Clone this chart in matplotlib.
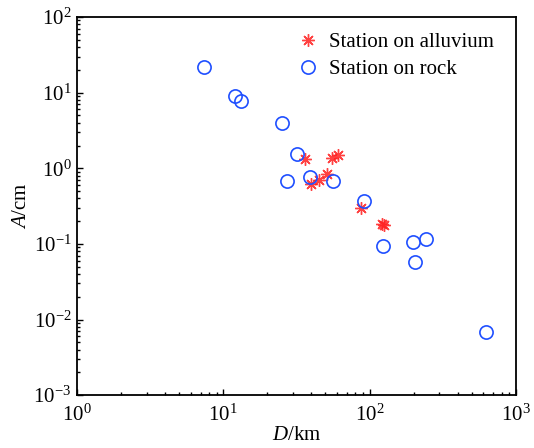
import matplotlib
matplotlib.use("Agg")
import matplotlib.pyplot as plt
from matplotlib.ticker import LogLocator, NullFormatter
import numpy as np

# 冲积层台站 (D/km, A/cm)
alluvium_D = [36.2, 39.6, 44.9, 51.4, 55.1, 60.5, 87.4, 121, 126]
alluvium_A = [1.31, 0.62, 0.71, 0.83, 1.35, 1.50, 0.295, 0.185, 0.176]

# 基岩台站
rock_D = [7.4, 12.0, 13.2, 25.2, 31.7, 27.5, 39.1, 56.5, 92, 124, 197, 243, 205, 625]
rock_A = [21.9, 9.1, 7.7, 4.0, 1.54, 0.68, 0.77, 0.68, 0.37, 0.094, 0.106, 0.115, 0.057, 0.0068]

plt.rcParams['font.family'] = ['Liberation Serif', 'DejaVu Serif']
plt.rcParams['mathtext.fontset'] = 'custom'
plt.rcParams['mathtext.rm'] = 'Liberation Serif'
plt.rcParams['mathtext.it'] = 'Liberation Serif:italic'

fig = plt.figure(figsize=(5.34, 4.48), dpi=100)
ax = fig.add_axes([0.144, 0.118, 0.822, 0.844])

ax.plot(alluvium_D, alluvium_A, linestyle='none', marker=(8, 2, 0), markersize=9,
        markeredgewidth=1.0, color='#ff2020', alpha=0.85, label='Station on alluvium')
ax.plot(rock_D, rock_A, linestyle='none', marker='o', markersize=9.5,
        markerfacecolor='none', markeredgecolor='#1f4fff', markeredgewidth=1.2,
        label='Station on rock')

ax.set_xscale('log')
ax.set_yscale('log')
ax.set_xlim(1, 1000)
ax.set_ylim(1e-3, 1e2)
ax.xaxis.set_major_locator(LogLocator(base=10, numticks=10))
ax.yaxis.set_major_locator(LogLocator(base=10, numticks=10))
ax.xaxis.set_minor_locator(LogLocator(base=10, subs=np.arange(2, 10), numticks=10))
ax.yaxis.set_minor_locator(LogLocator(base=10, subs=np.arange(2, 10), numticks=10))
ax.xaxis.set_minor_formatter(NullFormatter())
ax.yaxis.set_minor_formatter(NullFormatter())

ax.tick_params(which='both', direction='in', top=False, right=False, labelsize=15, width=1.0)
ax.tick_params(which='major', length=4)
ax.tick_params(which='minor', length=2.5)
ax.tick_params(axis='x', which='major', pad=7)
ax.tick_params(axis='y', which='major', pad=4)
for s in ax.spines.values():
    s.set_linewidth(1.3)

ax.set_xlabel(r'$\it{D}$/km', fontsize=15, labelpad=0)
ax.set_ylabel(r'$\it{A}$/cm', fontsize=15, labelpad=2)

ax.legend(loc='upper right', bbox_to_anchor=(0.986, 1.0), frameon=False, fontsize=15,
          handletextpad=0.4, borderaxespad=0.35, labelspacing=0.35, handlelength=1.2)

fig.savefig('out.png', dpi=100)
